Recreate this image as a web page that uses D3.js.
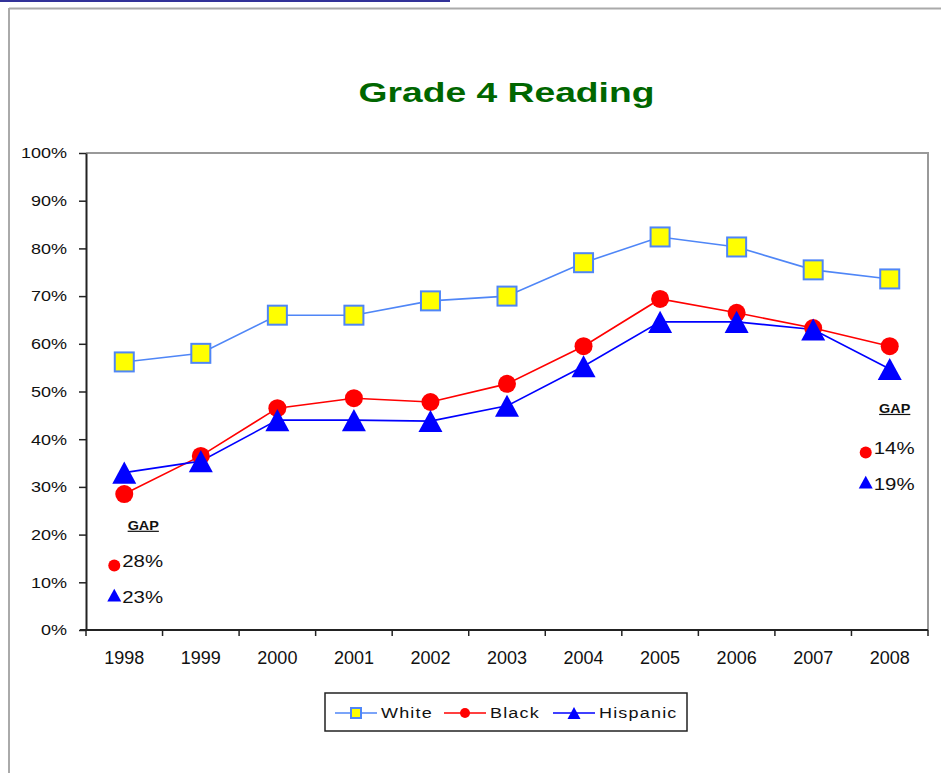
<!DOCTYPE html>
<html>
<head>
<meta charset="utf-8">
<script src="https://cdn.jsdelivr.net/npm/d3@7"></script>
<style>
  body { margin: 0; background: #fff; }
  text { font-family: Arial, "Liberation Sans", sans-serif; fill: #111; }
</style>
</head>
<body>
<div id="chart"></div>
<script>
const years = ['1998', '1999', '2000', '2001', '2002', '2003', '2004', '2005', '2006', '2007', '2008'];
const white = [56.2, 58.0, 66.0, 66.0, 69.0, 70.0, 77.0, 82.4, 80.3, 75.5, 73.6];
const black = [28.5, 36.5, 46.5, 48.6, 47.8, 51.6, 59.5, 69.4, 66.5, 63.3, 59.5];
const hispanic = [33.0, 35.4, 44.0, 44.0, 43.8, 47.0, 55.3, 64.6, 64.6, 63.0, 54.7];
const yTicks = [0, 10, 20, 30, 40, 50, 60, 70, 80, 90, 100];
const seriesNames = ['White', 'Black', 'Hispanic'];

const width = 941, height = 773;
const plot = { left: 86, right: 928, top: 153, bottom: 630 };

const svg = d3.select('#chart').append('svg')
  .attr('width', width)
  .attr('height', height);

// widen text horizontally, like the Excel export does
function stretch(sel, k) {
  sel.each(function() {
    const t = d3.select(this);
    const x = +t.attr('x') || 0;
    t.attr('transform', `translate(${x},0) scale(${k},1) translate(${-x},0)`);
  });
}

// frame bits
svg.append('rect').attr('x', 0).attr('y', 0).attr('width', 450).attr('height', 2).attr('fill', '#333399');
svg.append('line').attr('x1', 9).attr('x2', width).attr('y1', 8.5).attr('y2', 8.5)
  .attr('stroke', '#aaa').attr('stroke-width', 2);
svg.append('line').attr('x1', 9).attr('x2', 9).attr('y1', 8).attr('y2', height)
  .attr('stroke', '#aaa').attr('stroke-width', 2);

const x = d3.scaleBand().domain(years).range([plot.left, plot.right]);
const y = d3.scaleLinear().domain([0, 100]).range([plot.bottom, plot.top]);
const cx = d => x(d) + x.bandwidth() / 2;

// title
svg.append('text')
  .attr('x', 506.5).attr('y', 102)
  .attr('text-anchor', 'middle')
  .style('font-size', '28px').style('font-weight', 'bold').style('fill', '#006600')
  .text('Grade 4 Reading')
  .call(stretch, 1.33);

// plot border (top/right gray)
svg.append('path')
  .attr('d', `M${plot.left},${plot.top}H${plot.right}V${plot.bottom}`)
  .attr('fill', 'none').attr('stroke', '#999').attr('stroke-width', 2);

// y axis
const yAxis = svg.append('g')
  .attr('transform', `translate(${plot.left},0)`)
  .call(d3.axisLeft(y).tickValues(yTicks).tickFormat(d => d + '%').tickSize(7).tickPadding(12).tickSizeOuter(0));
yAxis.select('.domain').attr('stroke', '#222').attr('stroke-width', 2);
yAxis.selectAll('.tick line').attr('stroke', '#222').attr('stroke-width', 1.5);
yAxis.selectAll('.tick text').style('font-size', '15px').attr('fill', '#111').call(stretch, 1.2);

// x axis: labels centred, ticks on category boundaries
const xAxis = svg.append('g')
  .attr('transform', `translate(0,${plot.bottom})`)
  .call(d3.axisBottom(x).tickSize(0).tickPadding(21));
xAxis.select('.domain').remove();
xAxis.selectAll('.tick text').style('font-size', '18px').attr('fill', '#111');
xAxis.append('line')
  .attr('x1', plot.left - 6).attr('x2', plot.right)
  .attr('stroke', '#222').attr('stroke-width', 2);
xAxis.selectAll('line.bound')
  .data(years.map(d => x(d)).concat([x.range()[1]]))
  .join('line').attr('class', 'bound')
  .attr('x1', d => d).attr('x2', d => d)
  .attr('y1', 0).attr('y2', 6)
  .attr('stroke', '#222').attr('stroke-width', 1.5);

// series
const series = [
  { name: 'White', values: white, line: '#4f86f7', shape: 'square' },
  { name: 'Black', values: black, line: '#ff0000', shape: 'circle' },
  { name: 'Hispanic', values: hispanic, line: '#0000ff', shape: 'triangle' }
];

const line = d3.line().x((d, i) => cx(years[i])).y(d => y(d));

function marker(g, shape, s) {
  if (shape === 'square') {
    g.append('rect').attr('x', -s / 2).attr('y', -s / 2).attr('width', s).attr('height', s)
      .attr('fill', '#ffff00').attr('stroke', '#4f86f7').attr('stroke-width', 2);
  } else if (shape === 'circle') {
    g.append('circle').attr('r', s / 2).attr('fill', '#ff0000');
  } else {
    g.append('path')
      .attr('d', `M0,${-s * 0.46}L${s / 2},${s * 0.46}L${-s / 2},${s * 0.46}Z`)
      .attr('fill', '#0000ff');
  }
}

series.forEach(s => {
  svg.append('path')
    .datum(s.values)
    .attr('d', line)
    .attr('fill', 'none')
    .attr('stroke', s.line)
    .attr('stroke-width', 1.6);
});

const sizes = { square: 19, circle: 18, triangle: 24 };
series.forEach(s => {
  svg.append('g').selectAll('g')
    .data(s.values)
    .join('g')
    .attr('transform', (d, i) => `translate(${cx(years[i])},${y(d)})`)
    .each(function() { marker(d3.select(this), s.shape, sizes[s.shape]); });
});

// gap annotations
const gaps = [
  { i: 0, dx: -10, gapY: 21, dotY: 13.5, triY: 7.3 },
  { i: years.length - 1, dx: -24, gapY: 45.5, dotY: 37.2, triY: 31 }
];
gaps.forEach(gp => {
  const px = cx(years[gp.i]) + gp.dx;
  const gb = Math.round(white[gp.i] - black[gp.i]);
  const gh = Math.round(white[gp.i] - hispanic[gp.i]);
  svg.append('text')
    .attr('x', px + 29).attr('y', y(gp.gapY))
    .attr('text-anchor', 'middle')
    .style('font-size', '12px').style('font-weight', 'bold')
    .style('text-decoration', 'underline')
    .attr('fill', '#222')
    .text('GAP')
    .call(stretch, 1.2);
  const dot = svg.append('g').attr('transform', `translate(${px},${y(gp.dotY)})`);
  marker(dot, 'circle', 12);
  const tri = svg.append('g').attr('transform', `translate(${px},${y(gp.triY)})`);
  marker(tri, 'triangle', 14);
  svg.append('text')
    .attr('x', px + 8).attr('y', y(gp.dotY) + 1)
    .style('font-size', '17px')
    .text(gb + '%')
    .call(stretch, 1.2);
  svg.append('text')
    .attr('x', px + 8).attr('y', y(gp.triY) + 8)
    .style('font-size', '17px')
    .text(gh + '%')
    .call(stretch, 1.2);
});

// legend
const legend = svg.append('g').attr('transform', 'translate(325,693)');
legend.append('rect')
  .attr('width', 362).attr('height', 38)
  .attr('fill', '#fff').attr('stroke', '#222').attr('stroke-width', 1.5);
const itemX = [10, 119, 228];
const legendSizes = { square: 10, circle: 10, triangle: 13 };
series.forEach((s, i) => {
  const g = legend.append('g').attr('transform', `translate(${itemX[i]},20)`);
  g.append('line').attr('x1', 0).attr('x2', 42)
    .attr('stroke', s.line).attr('stroke-width', 1.6);
  const m = g.append('g').attr('transform', 'translate(21,0)');
  marker(m, s.shape, legendSizes[s.shape]);
  g.append('text')
    .attr('x', 46).attr('y', 5)
    .style('font-size', '15px').style('letter-spacing', '1px')
    .text(seriesNames[i])
    .call(stretch, 1.2);
});
</script>
</body>
</html>
